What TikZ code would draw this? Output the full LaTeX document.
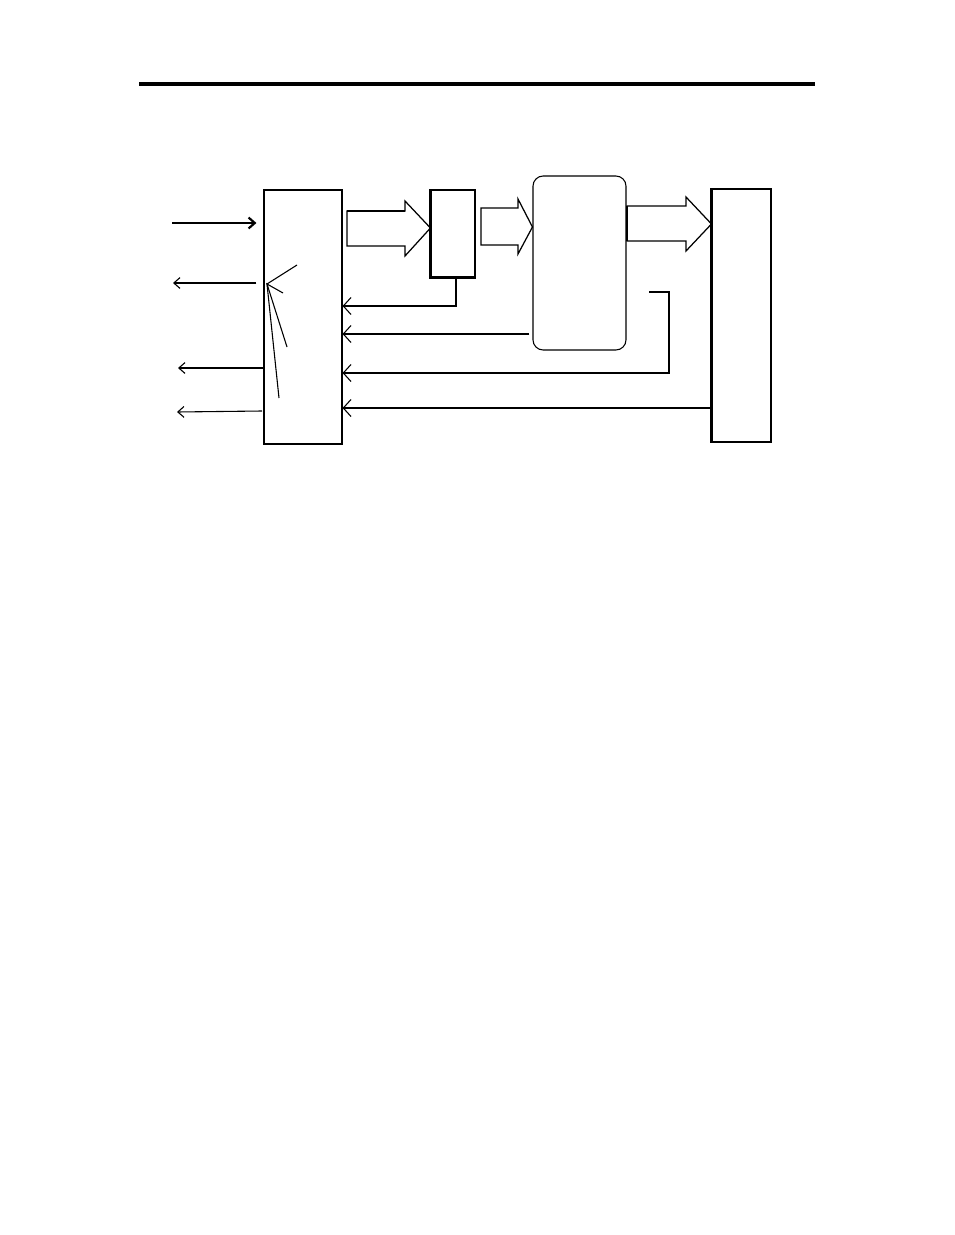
\documentclass[tikz,border=0pt]{standalone}
\usetikzlibrary{arrows.meta}
\newcommand{\px}{0.6414bp}
\tikzset{
  box/.style={draw, line width=0.7pt, inner sep=0pt},
  fb/.style={line width=0.7pt, -{Straight Barb[length=5pt,width=11pt]}},
  io/.style={line width=0.7pt, -{Straight Barb[length=4pt,width=7pt]}},
  fat/.style={draw, line width=0.8pt, line join=miter},
}
\begin{document}
\begin{tikzpicture}[x=\px, y=-\px]
\useasboundingbox (0,0) rectangle (954,1235);

% head rule
\draw[line width=2pt] (139,84) -- (815,84);

% blocks
\node[box, minimum width=78*\px, minimum height=254*\px] (A) at (303,317) {};
\node[box, minimum width=44*\px, minimum height=87*\px] (B) at (453,233.5) {};
\node[box, rounded corners=6.5pt, minimum width=93*\px, minimum height=174*\px] (C) at (579.5,263) {};
\node[box, minimum width=59*\px, minimum height=253*\px] (D) at (741.5,315.5) {};
\draw[line width=1.5pt] (B.north west) -- (B.south west) -- (B.south east);
\draw[line width=1.5pt] (D.north west) -- (D.south west);

% level coordinates
\coordinate (yIn) at (0,223);
\coordinate (yOut) at (0,283);
\coordinate (yB) at (0,306);
\coordinate (yC) at (0,334);
\coordinate (yBr) at (0,373);
\coordinate (yD) at (0,408);

% left side in/out
\coordinate (inS) at (172,223);
\draw[io, line width=1.4pt] (inS) -- ([xshift=-7*\px]A.west |- yIn);
\coordinate (out1) at (173,283);
\draw[io] ([xshift=-7*\px]A.west |- yOut) -- (out1);
\coordinate (out2) at (178,368);
\draw[io] (A.west |- out2) -- (out2);
\coordinate (out3) at (177,412);
\coordinate (out3s) at (262,411);
\draw[io] (out3s) -- (out3);

% marks inside A
\coordinate (tipA) at (267,284);
\draw[line width=0.7pt] (279,398) -- (tipA) -- (297,265);
\draw[line width=0.7pt] (287,347) -- (tipA) -- (283,293);

% fat arrows
\draw[fat] (347,246) -- (347,211) -- (405,211) -- (405,201) -- (B.west |- 0,228)
  -- (405,256) -- (405,246) -- cycle;
\draw[line width=1.6pt] (347,211) -- (405,211);
\draw[fat] (481,245) -- (481,208) -- (518,208) -- (518,199) -- (C.west |- 0,227)
  -- (518,254) -- (518,245) -- cycle;
\draw[fat] (627,241) -- (627,206) -- (686,206) -- (686,197) -- (D.west |- 0,224)
  -- (686,251) -- (686,241) -- cycle;
\draw[line width=1.6pt] (627,206) -- (627,241);

% feedback
\coordinate (bTap) at (456,277);
\draw[fb] (bTap) |- (A.east |- yB);
\draw[fb] ([xshift=-3*\px]C.west |- yC) -- (A.east |- yC);
\coordinate (brS) at (649,292);
\draw[fb] (brS) -- (669,292) |- (A.east |- yBr);
\draw[fb] (D.west |- yD) -- (A.east |- yD);

\end{tikzpicture}
\end{document}
